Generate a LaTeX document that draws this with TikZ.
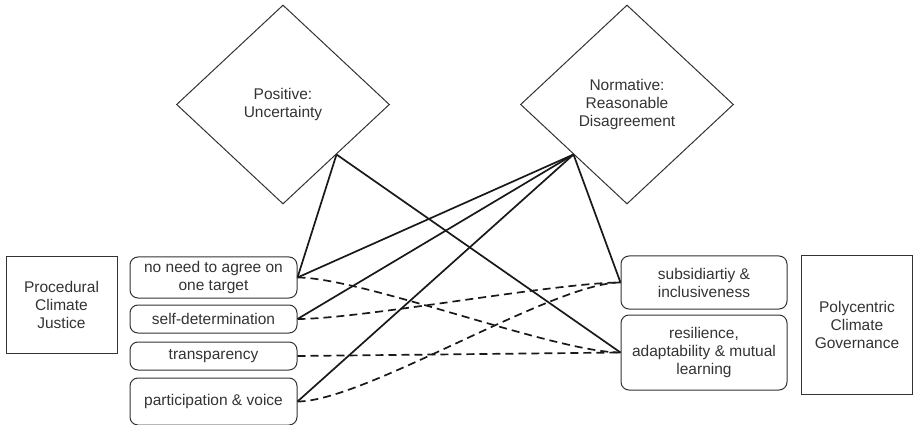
\documentclass[tikz,border=0pt]{standalone}
\usepackage{fontspec}
\setmainfont{Liberation Sans}
\usetikzlibrary{shapes.geometric,positioning}

\begin{document}
\begin{tikzpicture}[
    x=1pt, y=-1pt,
    font=\fontsize{15.5}{18}\selectfont,
    text=black!80,
    node distance=7pt,
    view/.style={draw=black!80, diamond, minimum width=213pt, minimum height=199pt, inner sep=0pt, align=center, line width=1pt},
    pillar/.style={draw=black!80, minimum width=111pt, align=center, line width=1pt},
    principle/.style={draw=black!80, rounded corners=8pt, minimum width=167pt, align=center, line width=1pt, inner sep=2pt},
    link/.style={line width=1.7pt, black!90},
    weak/.style={link, dash pattern=on 8pt off 5pt}
]
\useasboundingbox (0,0) rectangle (914,425);

\node[view] (pos) at (283,104.5) {Positive:\\Uncertainty};
\node[view] (norm) at (627,104.5) {Normative:\\Reasonable\\Disagreement};

\node[pillar, minimum height=96pt] (pcj) at (61.5,305) {Procedural\\Climate\\Justice};
\node[pillar, minimum height=138pt] (pcg) at (857,325) {Polycentric\\Climate\\Governance};

\node[principle, minimum height=41pt] (agree) at (213.5,277.5) {no need to agree on\\one target};
\node[principle, minimum height=28pt, below=6pt of agree] (selfdet) {self-determination};
\node[principle, minimum height=28pt, below=8pt of selfdet] (transp) {transparency};
\node[principle, minimum height=47pt, below=7pt of transp] (partic) {participation \& voice};

\node[principle, minimum width=166pt, minimum height=53pt] (subsid) at (704,282.5) {subsidiartiy \&\\inclusiveness};
\node[principle, minimum width=166pt, minimum height=75pt, below=5pt of subsid] (resil) {resilience,\\adaptability \& mutual\\learning};

\foreach \i/\j in {agree.east/pos.south east, resil.west/pos.south east, agree.east/norm.south west, selfdet.east/norm.south west, partic.east/norm.south west, subsid.west/norm.south west}
  \draw[link] (\j) -- (\i);

\draw[weak] (agree.east) to[out=0, in=180, looseness=0.5] (resil.west);
\draw[weak] (selfdet.east) to[out=0, in=180, looseness=0.5] (subsid.west);
\draw[weak] (transp.east) -- (resil.west);
\draw[weak] (partic.east) to[out=0, in=180, looseness=0.5] (subsid.west);
\end{tikzpicture}
\end{document}
